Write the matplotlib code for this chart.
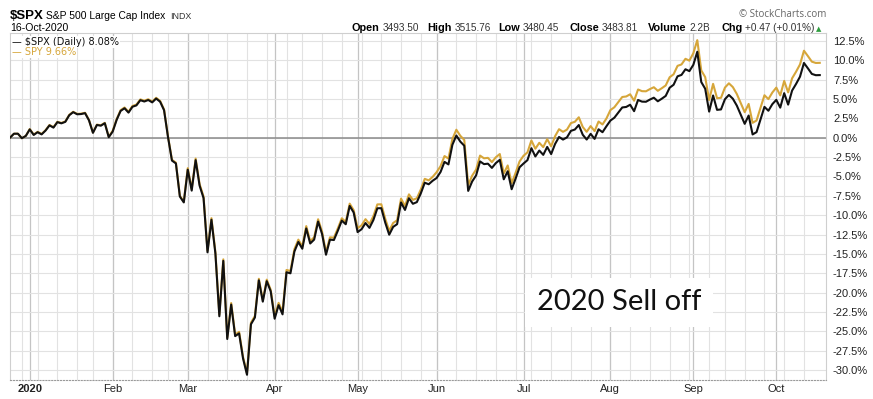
import numpy as np
import pandas as pd
import matplotlib
matplotlib.use("Agg")
import matplotlib.pyplot as plt

W, H = 873, 399

# $SPX daily closes, 24-Dec-2019 .. 16-Oct-2020
closes_dec19 = [3223.38, 3239.91, 3240.02, 3221.29, 3230.78]
closes_jan = [3257.85, 3234.85, 3246.28, 3237.18, 3253.05, 3274.70, 3265.35, 3288.13, 3283.15, 3289.29,
              3316.81, 3329.62, 3320.79, 3321.75, 3325.54, 3295.47, 3243.63, 3276.24, 3273.40, 3283.66, 3225.52]
closes_feb = [3248.92, 3297.59, 3334.69, 3345.78, 3327.71, 3352.09, 3357.75, 3379.45, 3373.94, 3380.16,
              3370.29, 3386.15, 3373.23, 3337.75, 3225.89, 3128.21, 3116.39, 2978.76, 2954.22]
closes_mar = [3090.23, 3003.37, 3130.12, 3023.94, 2972.37, 2746.56, 2882.23, 2741.38, 2480.64, 2711.02,
              2386.13, 2529.19, 2398.10, 2409.39, 2304.92, 2237.40, 2447.33, 2475.56, 2630.07, 2541.47,
              2626.65, 2584.59]
closes_apr = [2470.50, 2526.90, 2488.65, 2663.68, 2659.41, 2749.98, 2789.82, 2761.63, 2846.06, 2783.36,
              2799.55, 2874.56, 2823.16, 2736.56, 2799.31, 2797.80, 2836.74, 2878.48, 2863.39, 2939.51, 2912.43]
closes_may = [2830.71, 2842.74, 2868.44, 2848.42, 2881.19, 2929.80, 2930.32, 2870.12, 2820.00, 2852.50,
              2863.70, 2953.91, 2922.94, 2971.61, 2948.51, 2955.45, 2991.77, 3036.13, 3029.73, 3044.31]
closes_jun = [3055.73, 3080.82, 3122.87, 3112.35, 3193.93, 3232.39, 3207.18, 3190.14, 3002.10, 3041.31,
              3066.59, 3124.74, 3113.49, 3115.34, 3097.74, 3117.86, 3131.29, 3050.33, 3083.76, 3009.05,
              3053.24, 3100.29]
closes_jul = [3115.86, 3130.01, 3179.72, 3145.32, 3169.94, 3152.05, 3185.04, 3155.22, 3197.52, 3226.56,
              3215.57, 3224.73, 3251.84, 3257.30, 3276.02, 3235.66, 3215.63, 3239.41, 3218.44, 3258.44,
              3246.22, 3271.12]
closes_aug = [3294.61, 3306.51, 3327.77, 3349.16, 3351.28, 3360.47, 3333.69, 3380.35, 3373.43, 3372.85,
              3381.99, 3389.78, 3374.85, 3385.51, 3397.16, 3431.28, 3443.62, 3478.73, 3484.55, 3508.01, 3500.31]
closes_sep = [3526.65, 3580.84, 3455.06, 3426.96, 3331.84, 3398.96, 3339.19, 3340.97, 3383.54, 3401.20,
              3385.49, 3357.01, 3319.47, 3281.06, 3315.57, 3236.92, 3246.59, 3298.46, 3351.60, 3335.47, 3363.00]
closes_oct = [3380.80, 3348.42, 3408.60, 3360.97, 3419.44, 3446.83, 3477.14, 3534.22, 3511.93, 3488.67,
              3483.34, 3483.81]

# how far the SPY line sits above $SPX, by month (percentage points)
gap_months = ["2019-12", "2020-01", "2020-02", "2020-03", "2020-04", "2020-05",
              "2020-06", "2020-07", "2020-08", "2020-09", "2020-10"]
spy_gap = [0.0, 0.05, 0.1, 0.2, 0.3, 0.5, 0.75, 1.0, 1.35, 1.5, 1.58]

holidays = ["2019-12-25", "2020-01-01", "2020-01-20", "2020-02-17", "2020-04-10",
            "2020-05-25", "2020-07-03", "2020-09-07"]
month_labels = ["2020", "Feb", "Mar", "Apr", "May", "Jun", "Jul", "Aug", "Sep", "Oct"]
y_ticks = [12.5, 10.0, 7.5, 5.0, 2.5, 0.0, -2.5, -5.0, -7.5, -10.0, -12.5, -15.0,
           -17.5, -20.0, -22.5, -25.0, -27.5, -30.0]

ohlc_names = ["Open", "High", "Low", "Close", "Volume", "Chg"]
ohlc_values = ["3493.50", "3515.76", "3480.45", "3483.81", "2.2B", "+0.47 (+0.01%)"]

closes = np.array(closes_dec19 + closes_jan + closes_feb + closes_mar + closes_apr + closes_may
                  + closes_jun + closes_jul + closes_aug + closes_sep + closes_oct)
dates = pd.bdate_range("2019-12-24", "2020-10-16", freq="C", holidays=holidays)
assert len(dates) == len(closes)

spx = (closes / closes[0] - 1) * 100
gap_map = dict(zip(gap_months, spy_gap))
spy = spx + np.array([gap_map[d] for d in dates.strftime("%Y-%m")])
x = np.arange(len(dates))

month_idx = [i for i in range(1, len(dates)) if dates[i].month != dates[i - 1].month]
week_idx = [i for i in range(1, len(dates)) if dates[i].weekday() < dates[i - 1].weekday()]

GOLD = "#d6a63a"
SANS = ["Liberation Sans", "DejaVu Sans"]
NARROW = ["Liberation Sans Narrow", "Liberation Sans", "DejaVu Sans"]

fig = plt.figure(figsize=(W / 100, H / 100), dpi=100, facecolor="white")

def fx(px):
    return px / W

def fy(py):
    return 1 - py / H

ax_l, ax_r, ax_t, ax_b = 10, 826, 33, 380
ax = fig.add_axes([fx(ax_l), fy(ax_b), fx(ax_r - ax_l), (ax_b - ax_t) / H])

# y mapping: 0% at 137.7px, 7.75 px per %
ppp = 7.75
zero_y = 137.7
ax.set_ylim(-(ax_b - zero_y) / ppp, (zero_y - ax_t) / ppp)
ax.set_xlim(0, (ax_r - ax_l) / 3.95)

ax.set_yticks(y_ticks)
ax.set_yticklabels([f"{v:.1f}%" for v in y_ticks], family=SANS, fontsize=8, color="#222222")
ax.yaxis.tick_right()
ax.tick_params(axis="y", length=0, pad=5)

ax.set_xticks(month_idx)
ax.set_xticklabels(month_labels, family=NARROW, fontsize=8, color="#222222")
ax.get_xticklabels()[0].set_fontweight("bold")
ax.set_xticks(week_idx, minor=True)
ax.tick_params(axis="x", which="both", length=0, pad=3)

for i in week_idx:
    ax.axvline(i, color="#e2e2e2", lw=0.8, zorder=0)
for i in month_idx:
    ax.axvline(i, color="#c4c4c4", lw=0.9, zorder=0)
for v in y_ticks:
    ax.axhline(v, color="#e2e2e2", lw=0.8, zorder=0)
ax.axhline(0, color="#8a8a8a", lw=1.1, zorder=1)

for side in ["top", "left", "right"]:
    ax.spines[side].set_color("#cfcfcf")
    ax.spines[side].set_linewidth(0.8)
ax.spines["bottom"].set_color("#9a9a9a")
ax.spines["bottom"].set_linestyle(":")

ax.plot(x, spy, color=GOLD, lw=1.5, zorder=3, solid_joinstyle="round")
ax.plot(x, spx, color="#111111", lw=1.5, zorder=4, solid_joinstyle="round")

# legend in top-left corner
fig.text(fx(12), fy(45), "\u2014 $SPX (Daily) 8.08%", family="DejaVu Sans", fontsize=7,
         color="#111111", va="baseline", bbox=dict(facecolor="white", edgecolor="none", pad=0.5))
fig.text(fx(12), fy(55), "\u2014 SPY 9.66%", family="DejaVu Sans", fontsize=7,
         color=GOLD, va="baseline", bbox=dict(facecolor="white", edgecolor="none", pad=0.5))

fig.text(fx(537), fy(310.5), "2020 Sell off", family=["Lato", "DejaVu Sans"], fontsize=21,
         color="#111111", va="baseline",
         bbox=dict(facecolor="white", edgecolor="none", boxstyle="square,pad=0.4"))

# header
renderer = fig.canvas.get_renderer()
fig.text(fx(10), fy(19), "$SPX", family=SANS, fontsize=9.5, weight="bold", va="baseline")
t = fig.text(fx(46), fy(19), "S&P 500 Large Cap Index", family=SANS, fontsize=7.4, va="baseline")
fig.text(fx(t.get_window_extent(renderer).x1 + 5), fy(19), "INDX", family=SANS, fontsize=6.4,
         va="baseline", color="#333333")
fig.text(fx(10), fy(31), "16-Oct-2020", family=SANS, fontsize=7.6, va="baseline")
fig.text(fx(826), fy(17), "\u00a9 StockCharts.com", family=["Open Sans", "DejaVu Sans"], fontsize=7,
         color="#666666", va="baseline", ha="right")

label_x = [352, 427, 498, 569, 648, 721]
for lx, name, val in zip(label_x, ohlc_names, ohlc_values):
    t = fig.text(fx(lx), fy(31), name, family=SANS, fontsize=7.8, weight="bold", va="baseline")
    fig.text(fx(t.get_window_extent(renderer).x1 + 3), fy(31), val, family=SANS, fontsize=7.2,
             va="baseline", color="#333333")
fig.text(fx(816), fy(31), "\u25b2", family="DejaVu Sans", fontsize=5, color="#2e9e3e", va="baseline")

fig.savefig("out.png", dpi=100, facecolor="white")
